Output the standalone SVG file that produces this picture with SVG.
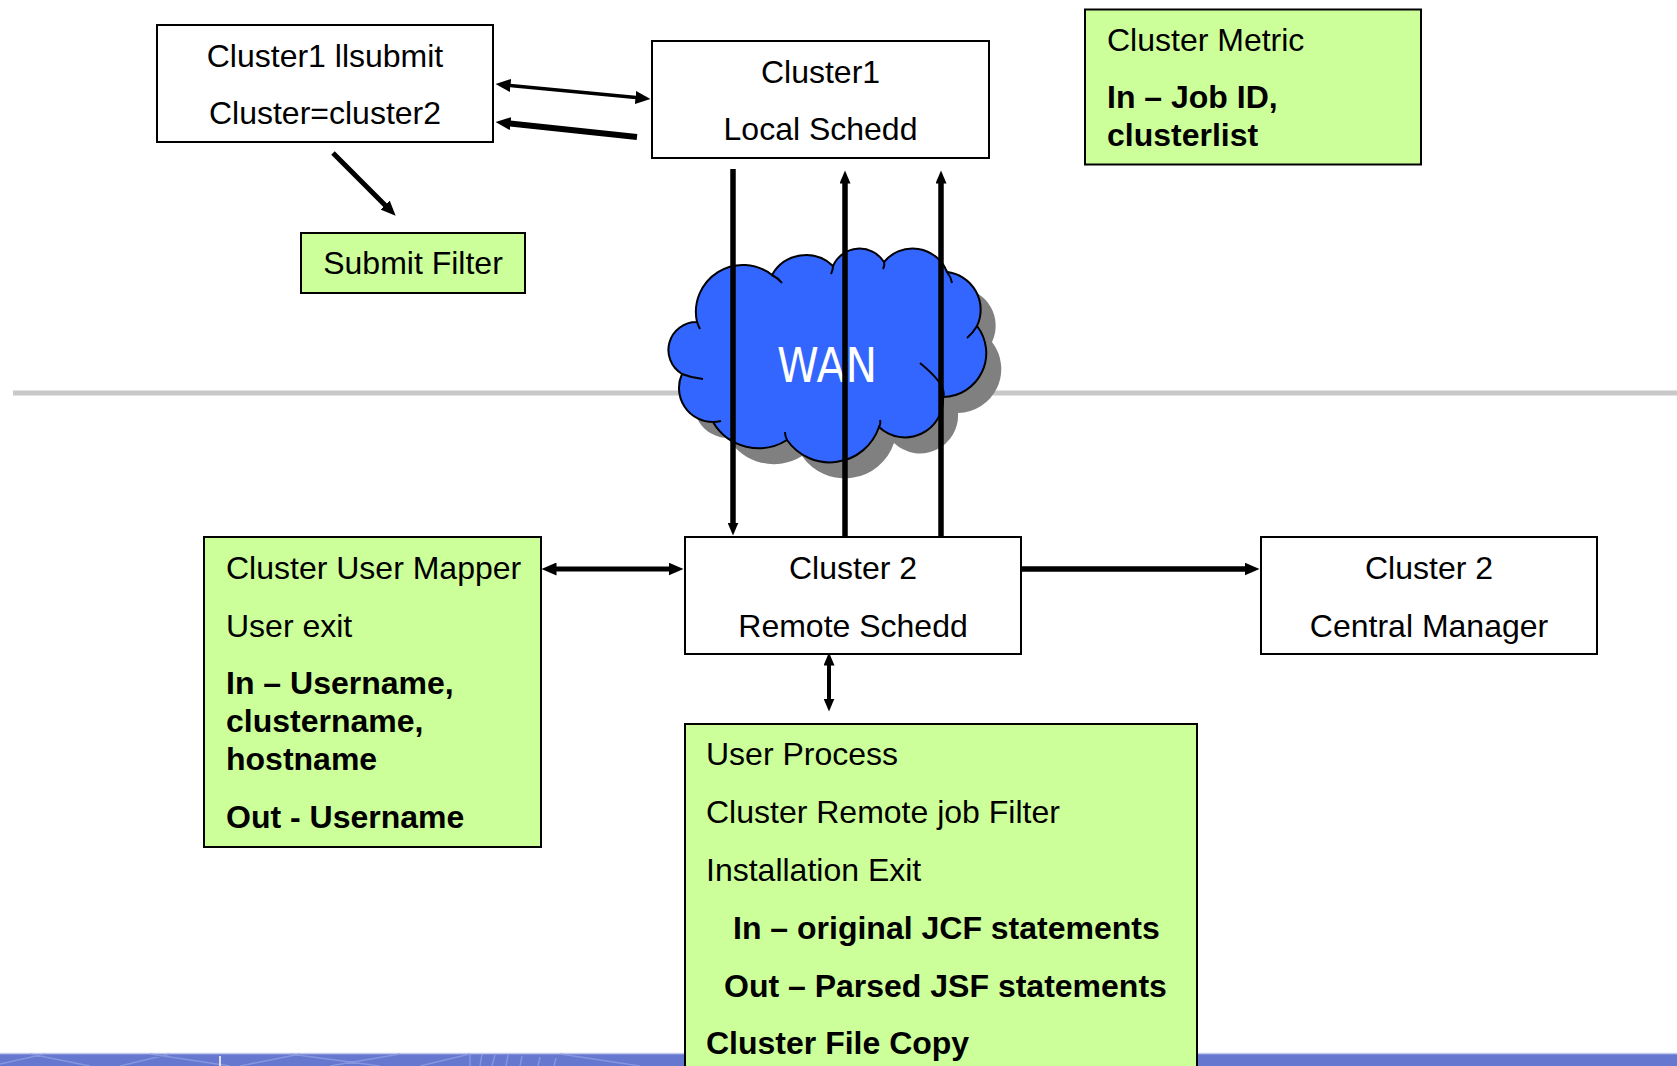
<svg xmlns="http://www.w3.org/2000/svg" width="1677" height="1066" viewBox="0 0 1677 1066">
<style>
.t{font-family:"Liberation Sans",Arial,sans-serif;font-size:32px;fill:#000}
.b{font-weight:bold}
.m{text-anchor:middle}
.box{fill:#fff;stroke:#000;stroke-width:2}
.gbox{fill:#ccff99;stroke:#000;stroke-width:2}
.ln{stroke:#000;fill:none}
.tick{fill:none;stroke:#000;stroke-width:2}
.pat{stroke:#8e9ce2;stroke-width:1.5;fill:none;opacity:.8}
</style>
<defs>
<marker id="ah" markerUnits="userSpaceOnUse" markerWidth="16" markerHeight="13" viewBox="0 0 16 13" refX="0.5" refY="6.5" orient="auto-start-reverse"><path d="M0,0 L15,6.5 L0,13 z" fill="#000"/></marker>
<marker id="ahv" markerUnits="userSpaceOnUse" markerWidth="14" markerHeight="11" viewBox="0 0 14 11" refX="0.5" refY="5.5" orient="auto-start-reverse"><path d="M0,0 L13,5.5 L0,11 z" fill="#000"/></marker>
<path id="cloudShape" d="M697,322 A47,47 0 0 1 772,275 A39,39 0 0 1 833,266 A29,29 0 0 1 884,262 A37,37 0 0 1 947,272 A38,38 0 0 1 977,326 A44,44 0 0 1 943,397 A38,38 0 0 1 879,427 A52,52 0 0 1 787,440 A53,53 0 0 1 713,422 A34,34 0 0 1 682,374 A28,28 0 0 1 697,322 Z"/>
</defs>

<g id="background">
<rect x="0" y="1053" width="1677" height="13" fill="#6677cf"/>
<line x1="0" y1="1053.5" x2="1677" y2="1053.5" stroke="#c5cbef" stroke-width="1.5"/>
<path class="pat" d="M0,1064 L45,1054 M30,1054 L90,1066 M120,1066 L170,1054 M150,1054 L230,1066 M240,1066 L300,1054 M290,1054 L380,1066 M330,1066 L400,1054 M420,1066 L470,1054 M470,1054 L470,1066 M482,1054 L480,1066 M495,1055 L492,1066 M508,1055 L506,1066 M522,1056 L520,1066 M540,1057 L538,1066 M556,1058 L554,1066 M560,1054 L640,1066"/>
<line x1="220" y1="1056" x2="220" y2="1066" stroke="#fff" stroke-width="1.5"/>
<line x1="13" y1="393" x2="1677" y2="393" stroke="#c8c8c8" stroke-width="5"/>
</g>

<g id="wan">
<use href="#cloudShape" transform="translate(15,16)" fill="#808080"/>
<use href="#cloudShape" fill="#3366ff" stroke="#000" stroke-width="2"/>
<path class="tick" d="M697,322 Q698,325 700,329 M772,275 Q778,278 782,283 M833,266 Q833,270 831,274 M884,262 Q885,265 883,269 M947,272 Q951,277 952,283 M977,326 Q973,333 967,338 M920,363 Q948,386 943,397 M879,427 Q881,424 880,420 M787,440 Q785,436 785,432 M713,422 Q717,422 721,421 M682,374 Q692,378 703,379"/>
<text x="777" y="382" font-family="DejaVu Sans,Verdana,sans-serif" font-size="48" fill="#fff" textLength="100" lengthAdjust="spacingAndGlyphs">WAN</text>
</g>

<g id="connectors">
<line class="ln" x1="510" y1="85.4" x2="636" y2="97.6" stroke-width="3.5" marker-start="url(#ah)" marker-end="url(#ah)"/>
<line class="ln" x1="637" y1="137" x2="510" y2="123.6" stroke-width="6" marker-end="url(#ah)"/>
<line class="ln" x1="333" y1="153" x2="385.4" y2="205.4" stroke-width="5" marker-end="url(#ah)"/>
<line class="ln" x1="733" y1="169" x2="733" y2="523" stroke-width="5.5" marker-end="url(#ahv)"/>
<line class="ln" x1="845" y1="537" x2="845" y2="183" stroke-width="5.5" marker-end="url(#ahv)"/>
<line class="ln" x1="941" y1="537" x2="941" y2="183" stroke-width="5.5" marker-end="url(#ahv)"/>
<line class="ln" x1="556" y1="569" x2="669" y2="569" stroke-width="5" marker-start="url(#ah)" marker-end="url(#ah)"/>
<line class="ln" x1="1021" y1="569" x2="1245" y2="569" stroke-width="5.5" marker-end="url(#ah)"/>
<line class="ln" x1="829" y1="665" x2="829" y2="699" stroke-width="4" marker-start="url(#ahv)" marker-end="url(#ahv)"/>
</g>

<g id="llsubmit">
<rect class="box" x="157" y="25" width="336" height="117"/>
<text class="t m" x="325" y="67">Cluster1 llsubmit</text>
<text class="t m" x="325" y="124">Cluster=cluster2</text>
</g>

<g id="local-schedd">
<rect class="box" x="652" y="41" width="337" height="117"/>
<text class="t m" x="820.5" y="83">Cluster1</text>
<text class="t m" x="820.5" y="140">Local Schedd</text>
</g>

<g id="submit-filter">
<rect class="gbox" x="301" y="233" width="224" height="60"/>
<text class="t m" x="413" y="274">Submit Filter</text>
</g>

<g id="cluster-metric">
<rect class="gbox" x="1085" y="9.5" width="336" height="155"/>
<text class="t" x="1107" y="51">Cluster Metric</text>
<text class="t b" x="1107" y="108">In – Job ID,</text>
<text class="t b" x="1107" y="146">clusterlist</text>
</g>

<g id="user-mapper">
<rect class="gbox" x="204" y="537" width="337" height="310"/>
<text class="t" x="226" y="579">Cluster User Mapper</text>
<text class="t" x="226" y="637">User exit</text>
<text class="t b" x="226" y="694">In – Username,</text>
<text class="t b" x="226" y="732">clustername,</text>
<text class="t b" x="226" y="770">hostname</text>
<text class="t b" x="226" y="828">Out - Username</text>
</g>

<g id="remote-schedd">
<rect class="box" x="685" y="537" width="336" height="117"/>
<text class="t m" x="853" y="579">Cluster 2</text>
<text class="t m" x="853" y="637">Remote Schedd</text>
</g>

<g id="central-manager">
<rect class="box" x="1261" y="537" width="336" height="117"/>
<text class="t m" x="1429" y="579">Cluster 2</text>
<text class="t m" x="1429" y="637">Central Manager</text>
</g>

<g id="user-process">
<rect class="gbox" x="685" y="724" width="512" height="350"/>
<text class="t" x="706" y="765">User Process</text>
<text class="t" x="706" y="823">Cluster Remote job Filter</text>
<text class="t" x="706" y="881">Installation Exit</text>
<text class="t b" x="733" y="939">In – original JCF statements</text>
<text class="t b" x="724" y="997">Out – Parsed JSF statements</text>
<text class="t b" x="706" y="1054">Cluster File Copy</text>
</g>
</svg>
